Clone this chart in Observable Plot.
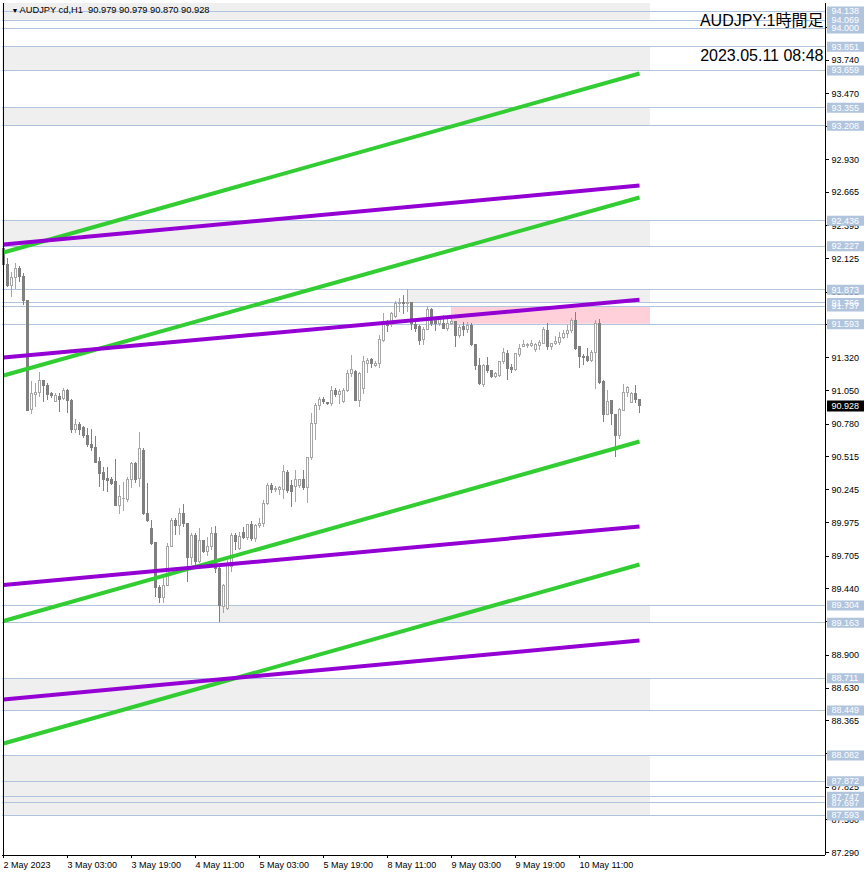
<!DOCTYPE html>
<html><head><meta charset="utf-8">
<script src="https://cdn.jsdelivr.net/npm/d3@7"></script>
<script src="https://cdn.jsdelivr.net/npm/@observablehq/plot@0.6"></script>
<style>body{margin:0;background:#fff} svg{display:block}</style>
</head><body><div id="chart"></div>
<script>
// ---- data (hourly bars, index 0 = 2 May 2023 11:00 server time) ----
const opens = [92.205,92.079,91.903,91.971,92.044,91.976,91.786,90.896,91.019,91.035,
91.127,91.094,91.021,90.958,90.999,90.986,91.053,90.972,90.734,90.769,
90.750,90.687,90.606,90.587,90.475,90.380,90.329,90.321,90.307,90.117,
90.170,90.164,90.321,90.457,90.335,90.565,90.050,89.928,89.814,89.447,
89.366,89.466,89.778,89.995,89.949,90.050,89.963,89.692,89.873,89.656,
89.827,89.741,89.778,89.887,89.602,89.289,89.276,89.615,89.873,89.765,
89.892,89.854,89.955,89.841,89.949,89.963,90.131,90.280,90.245,90.240,
90.240,90.380,90.280,90.267,90.272,90.327,90.261,90.506,90.782,90.931,
90.978,90.950,90.940,91.053,91.013,90.958,91.053,91.189,91.202,90.966,
91.067,91.271,91.298,91.255,91.271,91.455,91.590,91.583,91.650,91.754,
91.764,91.759,91.764,91.583,91.569,91.466,91.548,91.705,91.629,91.596,
91.596,91.556,91.596,91.610,91.501,91.569,91.542,91.575,91.420,91.257,
91.102,91.249,91.211,91.162,91.170,91.284,91.347,91.238,91.222,91.339,
91.406,91.414,91.414,91.380,91.412,91.434,91.536,91.406,91.428,91.439,
91.477,91.510,91.536,91.618,91.406,91.330,91.330,91.290,91.357,91.596,
91.121,90.858,90.966,90.852,90.681,90.890,91.032,90.950,91.021,90.979];
const highs = [92.220,92.126,92.017,92.085,92.063,92.004,91.790,91.127,91.108,91.198,
91.135,91.108,91.040,91.027,91.027,91.067,91.059,90.978,90.815,90.795,
90.760,90.742,90.734,90.681,90.506,90.424,90.429,90.345,90.492,90.280,
90.302,90.348,90.470,90.470,90.714,90.579,90.294,89.995,89.819,89.466,
89.520,89.806,90.009,90.009,90.090,90.123,89.973,89.887,89.887,89.928,
89.833,89.859,89.941,89.949,89.615,89.474,89.670,89.887,89.887,89.900,
89.941,89.963,89.990,89.963,90.009,90.155,90.294,90.294,90.270,90.275,
90.443,90.400,90.321,90.400,90.330,90.402,90.510,90.869,90.945,90.999,
90.999,90.957,91.083,91.067,91.062,91.067,91.214,91.339,91.214,91.202,
91.330,91.310,91.316,91.290,91.501,91.678,91.620,91.691,91.781,91.800,
91.825,91.873,91.772,91.629,91.583,91.564,91.735,91.721,91.640,91.640,
91.661,91.629,91.629,91.618,91.580,91.610,91.610,91.597,91.425,91.311,
91.265,91.325,91.220,91.200,91.290,91.398,91.380,91.265,91.357,91.430,
91.460,91.440,91.461,91.440,91.460,91.564,91.597,91.440,91.495,91.528,
91.542,91.580,91.640,91.691,91.412,91.350,91.397,91.378,91.624,91.629,
91.135,91.050,90.966,90.858,90.904,91.100,91.086,91.035,91.094,90.979];
const lows = [91.949,91.895,91.813,91.873,91.935,91.746,90.880,90.856,90.918,90.999,
90.958,90.972,90.986,90.953,90.877,90.972,90.869,90.706,90.701,90.687,
90.665,90.587,90.559,90.457,90.261,90.234,90.226,90.280,90.112,90.044,
90.071,90.144,90.253,90.294,90.261,90.036,89.981,89.792,89.366,89.322,
89.322,89.460,89.775,89.873,89.873,89.941,89.488,89.629,89.629,89.643,
89.724,89.702,89.751,89.561,89.163,89.236,89.262,89.575,89.751,89.751,
89.838,89.830,89.822,89.814,89.930,89.941,90.117,90.215,90.220,90.200,
90.164,90.215,90.098,90.142,90.256,90.240,90.136,90.484,90.646,90.891,
90.941,90.934,90.922,90.994,90.937,90.945,91.040,91.162,90.960,90.917,
91.025,91.190,91.230,91.240,91.230,91.445,91.528,91.568,91.640,91.691,
91.670,91.691,91.542,91.527,91.420,91.422,91.540,91.577,91.531,91.575,
91.548,91.536,91.580,91.406,91.480,91.490,91.520,91.414,91.216,91.094,
91.081,91.190,91.155,91.150,91.162,91.265,91.135,91.190,91.211,91.325,
91.400,91.395,91.400,91.365,91.380,91.434,91.380,91.380,91.420,91.420,
91.470,91.480,91.520,91.380,91.235,91.260,91.278,91.278,91.059,91.100,
90.796,90.850,90.769,90.506,90.655,90.885,91.000,90.945,90.945,90.870];
const closes = [92.079,91.903,91.971,92.044,91.976,91.786,90.885,91.027,91.035,91.127,
91.089,91.019,91.007,91.005,90.978,91.053,90.966,90.728,90.769,90.736,
90.681,90.606,90.584,90.462,90.372,90.321,90.313,90.294,90.117,90.185,
90.173,90.321,90.457,90.327,90.579,90.050,89.995,89.806,89.447,89.366,
89.466,89.778,89.995,89.949,90.050,89.963,89.692,89.873,89.656,89.827,
89.737,89.778,89.887,89.602,89.303,89.466,89.629,89.865,89.819,89.859,
89.854,89.955,89.841,89.949,89.963,90.131,90.280,90.240,90.248,90.258,
90.388,90.234,90.231,90.321,90.321,90.261,90.506,90.782,90.931,90.978,
90.958,90.940,91.053,91.013,91.045,91.053,91.189,91.222,90.966,91.189,
91.284,91.290,91.271,91.271,91.461,91.596,91.577,91.678,91.759,91.764,
91.754,91.764,91.596,91.556,91.455,91.548,91.710,91.591,91.591,91.629,
91.556,91.596,91.610,91.501,91.564,91.548,91.575,91.420,91.257,91.108,
91.249,91.211,91.162,91.184,91.284,91.357,91.230,91.222,91.347,91.388,
91.420,91.425,91.428,91.420,91.439,91.548,91.406,91.428,91.447,91.482,
91.510,91.536,91.618,91.393,91.325,91.320,91.290,91.357,91.591,91.113,
90.850,90.958,90.863,90.681,90.896,91.035,91.075,91.021,90.978,90.928];

const xTickBars = [0,16,32,48,64,80,96,112,128,144];
const xTickLabels = ["2 May 2023","3 May 03:00","3 May 19:00","4 May 11:00","5 May 03:00",
  "5 May 19:00","8 May 11:00","9 May 03:00","9 May 19:00","10 May 11:00"];
const yTicks = [94.010,93.740,93.470,93.200,92.930,92.665,92.395,92.125,91.855,91.590,91.320,
  91.050,90.780,90.515,90.245,89.975,89.705,89.440,89.170,88.900,88.630,88.365,88.095,87.825,87.560,87.290];
// horizontal levels, in drawing order
const levels = [94.000,94.069,94.138,93.851,93.659,93.355,93.208,92.436,92.227,91.873,91.766,91.737,
  91.593,89.304,89.163,88.711,88.449,88.082,87.872,87.697,87.747,87.593];
// zones: upper price, lower price, first bar (null = from left edge)
const zoneHi    = [94.204, 93.851, 93.355, 92.436, 91.873, 91.737, 89.304, 88.711, 88.082];
const zoneLo    = [94.069, 93.659, 93.208, 92.227, 91.766, 91.593, 89.163, 88.449, 87.593];
const zoneStart = [null,   null,   null,   null,   101,    112,    54,     null,   null];
const zoneKind  = ["gray","gray","gray","gray","gray","pink","gray","gray","gray"];
// trend lines: price at bar 0 and at bar 159
const greenStart  = [92.177, 91.176, 89.177, 88.180];
const greenEnd    = [93.634, 92.625, 90.638, 89.637];
const purpleStart = [92.242, 91.322, 89.471, 88.538];
const purpleEnd   = [92.722, 91.792, 89.946, 89.018];
const lastPrice = 90.928;
const headerText = "AUDJPY cd,H1\u00a0\u00a090.979 90.979 90.870 90.928";
const title = "AUDJPY:1時間足";
const stamp = "2023.05.11 08:48";

// ---- build ----
const candles = opens.map((o, i) => ({i, open: o, high: highs[i], low: lows[i], close: closes[i], bull: closes[i] >= o}));
const zones = zoneHi.map((hi, k) => ({hi, lo: zoneLo[k], start: zoneStart[k] ?? -0.25, kind: zoneKind[k]}));
const greens = greenStart.map((s, k) => ({s, e: greenEnd[k]}));
const purples = purpleStart.map((s, k) => ({s, e: purpleEnd[k]}));

const yMin = 87.268, yMax = 94.204;
const pxPerUnit = 852 / (yMax - yMin);
const xRight = 205.5;      // right edge of price area (bar units)
const zoneEnd = 161.75;
const BULL = "#a6a6a6", BEAR = "#808080", LEVEL = "#b0c4de";
const font = "'Liberation Sans', Arial, 'Noto Sans CJK JP', sans-serif";

const chart = Plot.plot({
  width: 866, height: 876,
  marginLeft: 2, marginRight: 0, marginTop: 3, marginBottom: 21,
  x: {domain: [-0.25, 215.75], axis: null},
  y: {domain: [yMin, yMax], axis: null},
  style: {fontFamily: font, fontSize: "9px", background: "#fff", overflow: "visible"},
  marks: [
    Plot.rect(zones, {x1: "start", x2: () => zoneEnd, y1: "lo", y2: "hi",
      fill: d => d.kind === "pink" ? "#ffd0da" : "#efefef"}),
    Plot.ruleY(levels, {y: d => d, x1: () => -0.25, x2: () => xRight, stroke: LEVEL, shapeRendering: "crispEdges"}),
    Plot.ruleX(candles, {x: "i", y1: "low", y2: "high", stroke: d => d.bull ? BULL : BEAR, shapeRendering: "crispEdges"}),
    Plot.rect(candles, {x1: d => d.i - 0.25, x2: d => d.i + 0.25, y1: "open", y2: "close",
      fill: d => d.bull ? "#fff" : BEAR, stroke: d => d.bull ? BULL : BEAR, strokeWidth: 1, shapeRendering: "crispEdges"}),
    Plot.link(greens, {x1: () => 0, x2: () => 159, y1: "s", y2: "e", stroke: "#32cd32", strokeWidth: 4}),
    Plot.link(purples, {x1: () => 0, x2: () => 159, y1: "s", y2: "e", stroke: "#9400d3", strokeWidth: 4}),
    // header texts
    Plot.text(["▼"], {frameAnchor: "top-left", dx: 9, dy: 7, lineAnchor: "middle", fontSize: 7, fill: "#000"}),
    Plot.text([headerText], {frameAnchor: "top-left", dx: 17, dy: 7, lineAnchor: "middle", textAnchor: "start", fontSize: 9.3, fill: "#000"}),
    Plot.text([title], {frameAnchor: "top-right", dx: -43, dy: 17.5, lineAnchor: "middle", textAnchor: "end", fontSize: 16, fill: "#000"}),
    Plot.text([stamp], {frameAnchor: "top-right", dx: -43, dy: 52.5, lineAnchor: "middle", textAnchor: "end", fontSize: 16, fill: "#000"}),
    // frame
    Plot.ruleX([-0.125], {x: d => d, y1: () => yMin, y2: () => yMax, stroke: "#000", shapeRendering: "crispEdges"}),
    Plot.ruleX([xRight], {x: d => d, y1: () => yMin, y2: () => yMax, stroke: "#000", shapeRendering: "crispEdges"}),
    Plot.ruleY([yMin], {y: d => d, x1: () => -0.25, x2: () => xRight, stroke: "#000", shapeRendering: "crispEdges"}),
    // x axis
    Plot.ruleX(xTickBars, {x: d => d, y1: () => yMin, y2: () => yMin - 3 / pxPerUnit, stroke: "#000", shapeRendering: "crispEdges"}),
    Plot.text(xTickBars, {x: d => d, frameAnchor: "bottom", dy: 10, lineAnchor: "middle", textAnchor: "start",
      text: d => xTickLabels[xTickBars.indexOf(d)], fill: "#000"}),
    // y axis
    Plot.ruleY(yTicks, {y: d => d, x1: () => xRight, x2: () => xRight + 1, stroke: "#000", shapeRendering: "crispEdges"}),
    Plot.text(yTicks, {y: d => d, x: () => 207, textAnchor: "start", text: d => d.toFixed(3), fill: "#000"}),
    // level labels
    Plot.ruleY(levels, {y: d => d, x1: () => 206, x2: () => 215.25, stroke: LEVEL, strokeWidth: 10}),
    Plot.text(levels, {y: d => d, x: () => 207, textAnchor: "start", text: d => d.toFixed(3), fill: "#fff"}),
    // current price label
    Plot.ruleY([lastPrice], {y: d => d, x1: () => 206, x2: () => 215.25, stroke: "#000", strokeWidth: 11}),
    Plot.text([lastPrice], {y: d => d, x: () => 207, textAnchor: "start", text: d => d.toFixed(3), fill: "#fff"})
  ]
});
document.getElementById("chart").appendChild(chart);
</script>
</body></html>
